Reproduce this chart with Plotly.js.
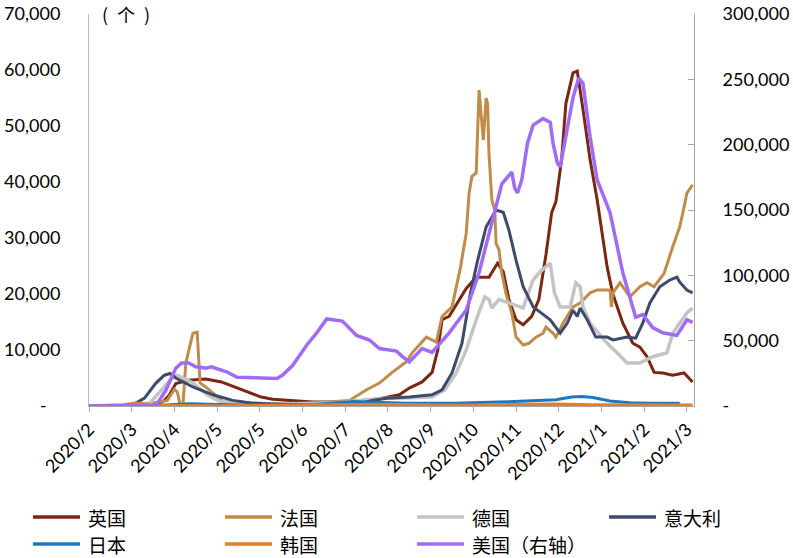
<!DOCTYPE html>
<html>
<head>
<meta charset="utf-8">
<script src="https://cdn.plot.ly/plotly-3.0.1.min.js"></script>
<style>html,body{margin:0;padding:0;background:#fff;}#chart{width:793px;height:558px;}</style>
</head>
<body>
<div id="chart"></div>
<script>
// ---- Data (7-day average daily new cases) ----
var seriesNames = ["英国", "法国", "德国", "意大利", "日本", "韩国", "美国（右轴）"];

var ukDates = ["2020-02-01","2020-03-10","2020-03-18","2020-03-24","2020-03-28","2020-04-02","2020-04-11","2020-04-23","2020-05-04","2020-05-15","2020-05-24","2020-06-01","2020-06-09","2020-07-07","2020-07-31","2020-08-23","2020-09-06","2020-09-13","2020-09-22","2020-09-29","2020-10-03","2020-10-06","2020-10-11","2020-10-23","2020-10-30","2020-11-08","2020-11-14","2020-11-18","2020-11-22","2020-11-27","2020-12-02","2020-12-08","2020-12-13","2020-12-18","2020-12-22","2020-12-25","2020-12-29","2021-01-01","2021-01-06","2021-01-09","2021-01-13","2021-01-18","2021-01-23","2021-01-30","2021-02-03","2021-02-10","2021-02-17","2021-02-22","2021-02-27","2021-03-04","2021-03-10","2021-03-17","2021-03-25","2021-03-31"];
var ukValues = [0,50,300,800,1800,4000,4600,4800,4300,3200,2300,1600,1200,700,700,1300,2000,3200,4300,6000,10000,15400,16000,21000,23000,23000,25500,24000,19000,15400,14500,16000,19000,27000,34500,36500,44000,54000,59500,59800,53000,44000,36800,24800,20000,14800,11200,10500,8800,6000,5900,5500,5900,4300];

var frDates = ["2020-02-01","2020-03-05","2020-03-18","2020-03-27","2020-04-01","2020-04-03","2020-04-05","2020-04-07","2020-04-09","2020-04-12","2020-04-14","2020-04-17","2020-04-19","2020-04-23","2020-05-01","2020-05-06","2020-05-25","2020-06-15","2020-07-10","2020-08-02","2020-08-14","2020-08-23","2020-09-01","2020-09-06","2020-09-11","2020-09-15","2020-09-25","2020-10-02","2020-10-06","2020-10-13","2020-10-19","2020-10-23","2020-10-25","2020-10-27","2020-10-30","2020-11-01","2020-11-03","2020-11-04","2020-11-06","2020-11-07","2020-11-08","2020-11-10","2020-11-12","2020-11-13","2020-11-15","2020-11-17","2020-11-20","2020-11-24","2020-11-27","2020-12-02","2020-12-06","2020-12-11","2020-12-16","2020-12-18","2020-12-23","2020-12-25","2020-12-30","2021-01-06","2021-01-11","2021-01-18","2021-01-23","2021-02-01","2021-02-02","2021-02-03","2021-02-08","2021-02-15","2021-02-22","2021-02-27","2021-03-04","2021-03-11","2021-03-17","2021-03-22","2021-03-25","2021-03-27","2021-03-31"];
var frValues = [0,50,600,1000,3000,2500,300,200,7700,11000,13000,13200,4100,3400,1600,600,500,400,600,1000,2900,4100,6000,7000,7900,9500,12300,11400,16000,17700,24800,30900,38000,41000,41600,56400,49800,47500,55000,54000,45000,36800,35000,29000,27900,23700,20000,16600,12300,10900,11200,12300,13000,14100,13000,12300,14800,17700,18400,20200,20700,20700,17700,20200,22000,19500,21300,22000,21300,23700,28400,32000,35500,38000,39500];

var deDates = ["2020-02-01","2020-03-05","2020-03-15","2020-03-25","2020-03-31","2020-04-03","2020-04-14","2020-04-24","2020-05-03","2020-06-01","2020-07-01","2020-07-25","2020-08-25","2020-09-06","2020-09-29","2020-10-08","2020-10-16","2020-10-23","2020-10-30","2020-11-05","2020-11-08","2020-11-10","2020-11-15","2020-11-20","2020-11-27","2020-12-02","2020-12-04","2020-12-09","2020-12-14","2020-12-21","2020-12-24","2020-12-28","2021-01-04","2021-01-08","2021-01-11","2021-01-13","2021-01-18","2021-01-24","2021-01-30","2021-02-06","2021-02-13","2021-02-22","2021-03-03","2021-03-13","2021-03-17","2021-03-22","2021-03-27","2021-03-31"];
var deValues = [0,50,600,3400,5200,5500,4100,2000,800,400,400,600,1400,1400,1600,2900,5900,10000,15400,19500,19000,17500,19000,18600,18000,17500,19000,22500,24000,25500,20200,17700,17700,22000,21300,17700,14800,13000,11200,9500,7700,7700,8800,9500,13000,14800,16600,17500];

var itDates = ["2020-02-01","2020-02-25","2020-03-04","2020-03-11","2020-03-19","2020-03-25","2020-03-29","2020-04-02","2020-04-14","2020-04-28","2020-05-12","2020-05-26","2020-06-20","2020-07-20","2020-08-10","2020-08-18","2020-08-28","2020-09-13","2020-09-29","2020-10-06","2020-10-13","2020-10-20","2020-10-26","2020-10-31","2020-11-06","2020-11-13","2020-11-18","2020-11-22","2020-11-27","2020-12-02","2020-12-09","2020-12-15","2020-12-21","2020-12-28","2021-01-02","2021-01-06","2021-01-09","2021-01-11","2021-01-16","2021-01-22","2021-01-30","2021-02-03","2021-02-13","2021-02-19","2021-02-24","2021-03-01","2021-03-08","2021-03-15","2021-03-20","2021-03-22","2021-03-27","2021-03-31"];
var itValues = [0,50,400,1400,4100,5500,5800,5000,3400,2000,1000,500,250,250,500,1000,1400,1600,2000,2900,5900,11200,20200,26000,32000,35000,34600,31400,26000,21300,17700,16600,15400,13000,14800,17100,16000,17500,15400,12300,12300,11800,12300,12100,14800,18400,21300,22500,23000,22100,20700,20200];

var jpDates = ["2020-02-01","2020-03-15","2020-04-12","2020-05-05","2020-06-01","2020-07-01","2020-08-05","2020-09-10","2020-10-15","2020-11-15","2020-12-10","2020-12-25","2021-01-05","2021-01-12","2021-01-20","2021-02-01","2021-02-15","2021-03-01","2021-03-22"];
var jpValues = [0,50,400,200,50,150,800,500,500,700,900,1100,1600,1700,1500,900,600,500,500];

var krDates = ["2020-02-01","2020-02-25","2020-03-05","2020-03-20","2020-05-01","2020-08-28","2020-10-15","2020-12-25","2021-01-20","2021-03-31"];
var krValues = [0,200,500,100,20,250,100,300,200,150];

var usDates = ["2020-02-01","2020-03-12","2020-03-19","2020-03-26","2020-04-02","2020-04-06","2020-04-11","2020-04-16","2020-04-23","2020-04-27","2020-05-08","2020-05-15","2020-05-26","2020-06-05","2020-06-12","2020-06-16","2020-06-23","2020-07-03","2020-07-10","2020-07-17","2020-07-28","2020-08-07","2020-08-16","2020-08-23","2020-09-04","2020-09-08","2020-09-13","2020-09-22","2020-09-29","2020-10-11","2020-10-23","2020-11-01","2020-11-08","2020-11-17","2020-11-24","2020-11-26","2020-11-28","2020-12-01","2020-12-05","2020-12-09","2020-12-16","2020-12-21","2020-12-23","2020-12-26","2020-12-28","2021-01-02","2021-01-06","2021-01-10","2021-01-13","2021-01-18","2021-01-23","2021-02-01","2021-02-10","2021-02-19","2021-02-24","2021-03-03","2021-03-10","2021-03-20","2021-03-27","2021-03-31"];
var usValues = [0,0,500,12000,29000,33000,33000,30000,29000,30000,26000,22000,21400,21000,21000,23700,31000,46700,56000,66600,65000,54000,50500,44000,42000,38000,33700,44000,41000,56000,73500,102000,132000,170000,179000,167000,163000,173000,201000,215000,220000,217000,201000,186000,183000,213000,236000,251000,247000,206000,173000,148000,102000,68000,70000,60000,56000,54000,66000,64000];

// Axis ticks
var xTickDates = ["2020-02-01","2020-03-02","2020-04-01","2020-05-01","2020-05-31","2020-06-30","2020-07-30","2020-08-29","2020-09-28","2020-10-28","2020-11-27","2020-12-27","2021-01-26","2021-02-25","2021-03-27"];
var xTickLabels = ["2020/2","2020/3","2020/4","2020/5","2020/5","2020/6","2020/7","2020/8","2020/9","2020/10","2020/11","2020/12","2021/1","2021/2","2021/3"];
var leftTickVals = [0,10000,20000,30000,40000,50000,60000,70000];
var leftTickLabels = ["-\u00a0\u00a0\u00a0","10,000","20,000","30,000","40,000","50,000","60,000","70,000"];
var rightTickVals = [0,50000,100000,150000,200000,250000,300000];
var rightTickLabels = ["-","50,000","100,000","150,000","200,000","250,000","300,000"];

var colors = ["#7B2710", "#C18C4A", "#C4C4C4", "#3D4A6C", "#1B78C2", "#E27F2A", "#A06CF7"];
var widths = [3, 3, 3.5, 3, 3, 3.5, 3.5];

var xs = [ukDates, frDates, deDates, itDates, jpDates, krDates, usDates];
var ys = [ukValues, frValues, deValues, itValues, jpValues, krValues, usValues];

var traces = seriesNames.map(function (name, i) {
  return {
    type: "scatter", mode: "lines", name: name,
    x: xs[i], y: ys[i],
    yaxis: i === 6 ? "y2" : "y",
    line: {color: colors[i], width: widths[i]},
    showlegend: false,
    hoverinfo: "x+y+name"
  };
});

// ---- Legend (drawn as key lines + labels below the plot, 4 columns x 2 rows) ----
var plotL = 89, plotW = 605, plotB = 406, plotH = 392;
function px2x(p) { return (p - plotL) / plotW; }
function px2y(p) { return (plotB - p) / plotH; }
var legendColX = [33, 225, 417, 609];
var legendRowY = [517, 544];
var legendShapes = [], legendTexts = [];
seriesNames.forEach(function (name, i) {
  var col = i % 4, row = Math.floor(i / 4);
  var x0 = legendColX[col], y = legendRowY[row];
  legendShapes.push({
    type: "line", xref: "paper", yref: "paper",
    x0: px2x(x0), x1: px2x(x0 + 47), y0: px2y(y), y1: px2y(y),
    line: {color: colors[i], width: 3.5}
  });
  legendTexts.push({
    text: name, xref: "paper", yref: "paper",
    x: px2x(x0 + 53), y: px2y(y), xanchor: "left", yanchor: "middle",
    showarrow: false,
    font: {family: "'Noto Sans CJK SC', sans-serif", size: 19, color: "#000"}
  });
});

var axisGray = "#A6A6A6";
var layout = {
  width: 793, height: 558,
  margin: {l: 89, r: 99, t: 14, b: 152, pad: 0},
  paper_bgcolor: "#ffffff", plot_bgcolor: "#ffffff",
  font: {family: "Lato, 'Liberation Sans', sans-serif", size: 18, color: "#000000"},
  showlegend: false,
  xaxis: {
    type: "date", range: ["2020-02-01", "2021-04-01"],
    tickmode: "array", tickvals: xTickDates, ticktext: xTickLabels,
    tickangle: -45, ticks: "outside", ticklen: 5, tickcolor: axisGray, tickwidth: 1,
    showline: true, linecolor: axisGray, linewidth: 1,
    showgrid: false, zeroline: false,
    tickfont: {family: "Lato, sans-serif", size: 18, color: "#000"}
  },
  yaxis: {
    range: [0, 70000], tickmode: "array", tickvals: leftTickVals, ticktext: leftTickLabels,
    ticks: "", showline: true, linecolor: "#BFBFBF", linewidth: 1,
    showgrid: false, zeroline: false, ticklabelstandoff: 24,
    tickfont: {family: "Lato, sans-serif", size: 18, color: "#000"}
  },
  yaxis2: {
    overlaying: "y", side: "right", anchor: "x",
    range: [0, 300000], tickmode: "array", tickvals: rightTickVals, ticktext: rightTickLabels,
    ticks: "inside", ticklen: 6, tickcolor: axisGray, tickwidth: 1,
    showline: true, linecolor: axisGray, linewidth: 1,
    showgrid: false, zeroline: false, ticklabelstandoff: 24,
    tickfont: {family: "Lato, sans-serif", size: 18, color: "#000"}
  },
  shapes: legendShapes,
  annotations: [{
    text: "(\u2002个\u2002)", xref: "paper", yref: "paper", x: px2x(100), y: 1.0,
    xanchor: "left", yanchor: "middle", showarrow: false,
    font: {family: "'Noto Sans CJK SC', sans-serif", size: 18, color: "#000"}
  }].concat(legendTexts)
};

Plotly.newPlot("chart", traces, layout, {displayModeBar: false, staticPlot: true});
</script>
</body>
</html>
